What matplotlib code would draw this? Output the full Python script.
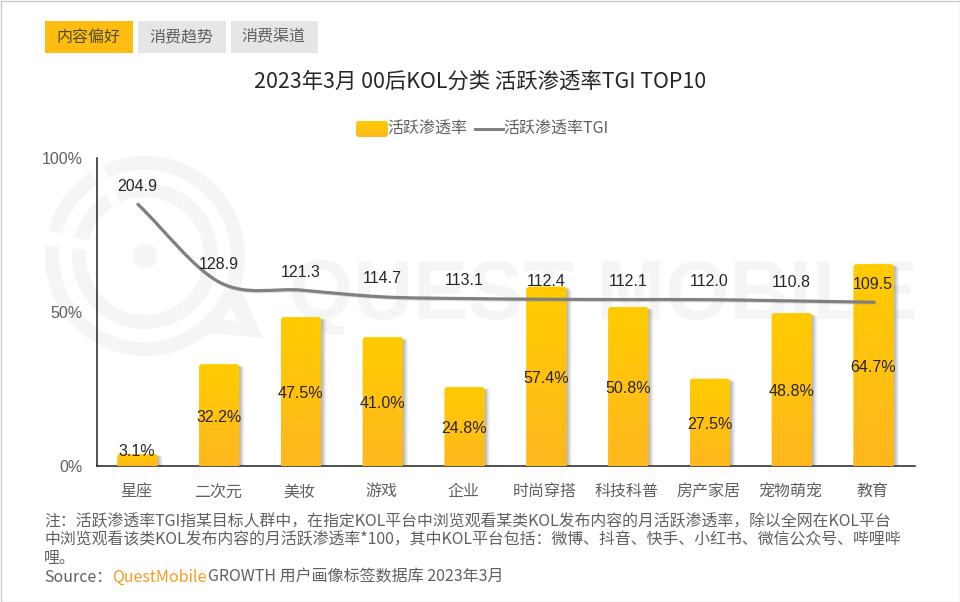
import matplotlib
matplotlib.use('Agg')
import matplotlib.pyplot as plt
import numpy as np
from matplotlib.patches import Rectangle, FancyBboxPatch, PathPatch, Wedge, Circle, Polygon
from matplotlib.path import Path
from matplotlib.colors import LinearSegmentedColormap
from matplotlib.transforms import ScaledTranslation
import matplotlib.patheffects as pe

cjk = ['Noto Sans CJK SC', 'DejaVu Sans']
num = ['Liberation Sans', 'DejaVu Sans']
plt.rcParams['font.family'] = cjk

# data
categories = ['星座', '二次元', '美妆', '游戏', '企业', '时尚穿搭', '科技科普', '房产家居', '宠物萌宠', '教育']
penetration = [3.1, 32.2, 47.5, 41.0, 24.8, 57.4, 50.8, 27.5, 48.8, 64.7]
tgi = [204.9, 128.9, 121.3, 114.7, 113.1, 112.4, 112.1, 112.0, 110.8, 109.5]
y_ticks = [0, 50, 100]
y_tick_labels = ['0%', '50%', '100%']
tabs = ['内容偏好', '消费趋势', '消费渠道']

title = '2023年3月 00后KOL分类 活跃渗透率TGI TOP10'
notes = ['注：活跃渗透率TGI指某目标人群中，在指定KOL平台中浏览观看某类KOL发布内容的月活跃渗透率，除以全网在KOL平台',
         '中浏览观看该类KOL发布内容的月活跃渗透率*100，其中KOL平台包括：微博、抖音、快手、小红书、微信公众号、哔哩哔',
         '哩。']

GRAY_TEXT = '#606060'
DARK = '#262626'
WM = '#f5f5f5'
grad = LinearSegmentedColormap.from_list('bar', ['#ffb71f', '#ffcc00'])

fig = plt.figure(figsize=(9.6, 6.02), dpi=100)

# background layer in pixel coordinates
bg = fig.add_axes([0, 0, 1, 1])
bg.set_xlim(0, 960)
bg.set_ylim(602, 0)
bg.axis('off')

# watermark, y is flipped here so the angles run clockwise on screen
cx, cy = 145, 256
for r_out, width in [(100, 14), (73, 14)]:
    bg.add_patch(Wedge((cx, cy), r_out, -115, 186, width=width, color=WM, lw=0))
    bg.add_patch(Wedge((cx, cy), r_out, -165, -123, width=width, color=WM, lw=0))
bg.add_patch(Circle((cx, cy), 12, color=WM, lw=0))
bg.add_patch(Polygon([(224, 294), (239, 285), (263, 338), (210, 333), (207, 317), (238, 322)], color=WM, lw=0))
bg.text(289, 297, 'QUEST MOBILE', fontsize=59.5, fontweight='bold', family=num, color=WM, va='center', ha='left')

# frame of the picture
bg.add_patch(Rectangle((0.5, 0.5), 959, 601, fill=False, ec='#cccccc', lw=1))

# tabs
tab_x = [45, 138, 231]
tab_w = [88, 88, 87]
tab_c = ['#ffbc11', '#e6e6e6', '#e6e6e6']
for t, x, w, c in zip(tabs, tab_x, tab_w, tab_c):
    bg.add_patch(Rectangle((x, 21), w, 32, color=c, lw=0))
    bg.text(x + w / 2 - 1, 37, t, fontsize=11.5, color=GRAY_TEXT if c != '#ffbc11' else '#4d4d33', ha='center', va='center')

bg.text(480, 82, title, fontsize=15.4, color=DARK, ha='center', va='center')

# legend
sw = FancyBboxPatch((356, 121), 32, 16, boxstyle='round,pad=0,rounding_size=3', fc='none', ec='none')
bg.add_patch(sw)
im = bg.imshow(np.linspace(1, 0, 50).reshape(-1, 1), extent=[356, 388, 137, 121], cmap=grad, aspect='auto', vmin=0, vmax=1)
im.set_clip_path(sw)
bg.set_xlim(0, 960)
bg.set_ylim(602, 0)
bg.text(387, 129, '活跃渗透率', fontsize=11.5, color=GRAY_TEXT, va='center')
bg.plot([475, 503], [129, 129], color='#808080', lw=2.2)
bg.text(503, 129, '活跃渗透率TGI', fontsize=11.5, color=GRAY_TEXT, va='center')

# footnote
for note, y in zip(notes, [522, 540, 558]):
    bg.text(44, y, note, fontsize=11.43, color=GRAY_TEXT, va='center')
bg.text(44, 577, 'Source：', fontsize=11.5, color=GRAY_TEXT, va='center')
bg.text(112, 577, 'QuestMobile', fontsize=11.5, color='#ff9a1f', va='center')
bg.text(208, 577, 'GROWTH 用户画像标签数据库 2023年3月', fontsize=11.5, color=GRAY_TEXT, va='center')

# main chart
ax = fig.add_axes([97 / 960, (602 - 466) / 602, 818 / 960, 308 / 602])
ax.patch.set_alpha(0)
px_x = 818 / 10
px_y = 308 / 100
bar_w = 40 / px_x
r = 3 / px_x
asp = (3 / px_y) / r
top_pad = 0.8  # bars in the picture stand a little over their value

xs = np.arange(len(categories))
for x, v in zip(xs, penetration):
    # soft shadow on the right
    for off, a in [(1, 0.12), (2, 0.12), (3, 0.1), (4, 0.08), (5, 0.05)]:
        ax.add_patch(FancyBboxPatch((x - bar_w / 2 + off / px_x, -3), bar_w, v + 3 + top_pad - 0.5,
                                    boxstyle=f'round,pad=0,rounding_size={r}', mutation_aspect=asp,
                                    fc='#555555', ec='none', alpha=a, zorder=2))
    box = FancyBboxPatch((x - bar_w / 2 - 0.5 / px_x, -3), bar_w, v + 3 + top_pad, boxstyle=f'round,pad=0,rounding_size={r}',
                         mutation_aspect=asp, fc='#ffcc00', ec='none', zorder=3)
    ax.add_patch(box)
    im = ax.imshow(np.linspace(1, 0, 100).reshape(-1, 1), extent=[x - bar_w / 2 - 1 / px_x, x + bar_w / 2, 0, v + top_pad],
                   cmap=grad, aspect='auto', vmin=0, vmax=1, zorder=3.1)
    im.set_clip_path(box)
    lift = 7.2 if v < 5 else -0.7
    ax.annotate(f'{v:.1f}%', (x, v / 2), xytext=(-0.7, lift), textcoords='offset points', ha='center', va='center',
                fontsize=11.5, family=num, color=DARK, zorder=5)

ax.set_xlim(-0.5, 9.5)
ax.set_ylim(0, 100)
ax.set_xticks(xs)
ax.set_xticklabels(categories, fontsize=11.5, color=GRAY_TEXT)
ax.set_yticks(y_ticks)
ax.set_yticklabels(y_tick_labels, fontsize=11.5, family=num, color=GRAY_TEXT)
ax.tick_params(axis='x', length=0, pad=12.5)
ax.tick_params(axis='y', length=0, pad=10.5)
# x labels sit a little left of the bar centres
nudge = ScaledTranslation(-1.5 / 72, 0, fig.dpi_scale_trans)
for lab in ax.get_xticklabels():
    lab.set_transform(lab.get_transform() + nudge)
for s in ['top', 'right']:
    ax.spines[s].set_visible(False)
for s in ['left', 'bottom']:
    ax.spines[s].set_color('#222222')
    ax.spines[s].set_linewidth(1.1)

# TGI line on its own scale, smoothed with bezier segments
ax2 = ax.twinx()
ax2.set_ylim(-50, 250)
ax2.axis('off')
t = 0.33
verts = [(xs[0], tgi[0])]
codes = [Path.MOVETO]
n = len(tgi)
for i in range(n - 1):
    m0 = (tgi[i + 1] - tgi[max(i - 1, 0)]) / (i + 1 - max(i - 1, 0))
    m1 = (tgi[min(i + 2, n - 1)] - tgi[i]) / (min(i + 2, n - 1) - i)
    verts += [(i + t, tgi[i] + m0 * t), (i + 1 - t, tgi[i + 1] - m1 * t), (i + 1, tgi[i + 1])]
    codes += [Path.CURVE4, Path.CURVE4, Path.CURVE4]
ax2.add_patch(PathPatch(Path(verts, codes), fill=False, ec='#808080', lw=2.3, capstyle='round', zorder=4,
                        path_effects=[pe.SimpleLineShadow(offset=(0.8, -0.8), shadow_color='#888888', alpha=0.25), pe.Normal()]))
for x, v in zip(xs, tgi):
    ax2.annotate(f'{v:.1f}', (x, v), xytext=(-0.7, 13), textcoords='offset points', ha='center', va='center',
                 fontsize=11.5, family=num, color=DARK, zorder=6)

fig.savefig('out.png', dpi=100)
